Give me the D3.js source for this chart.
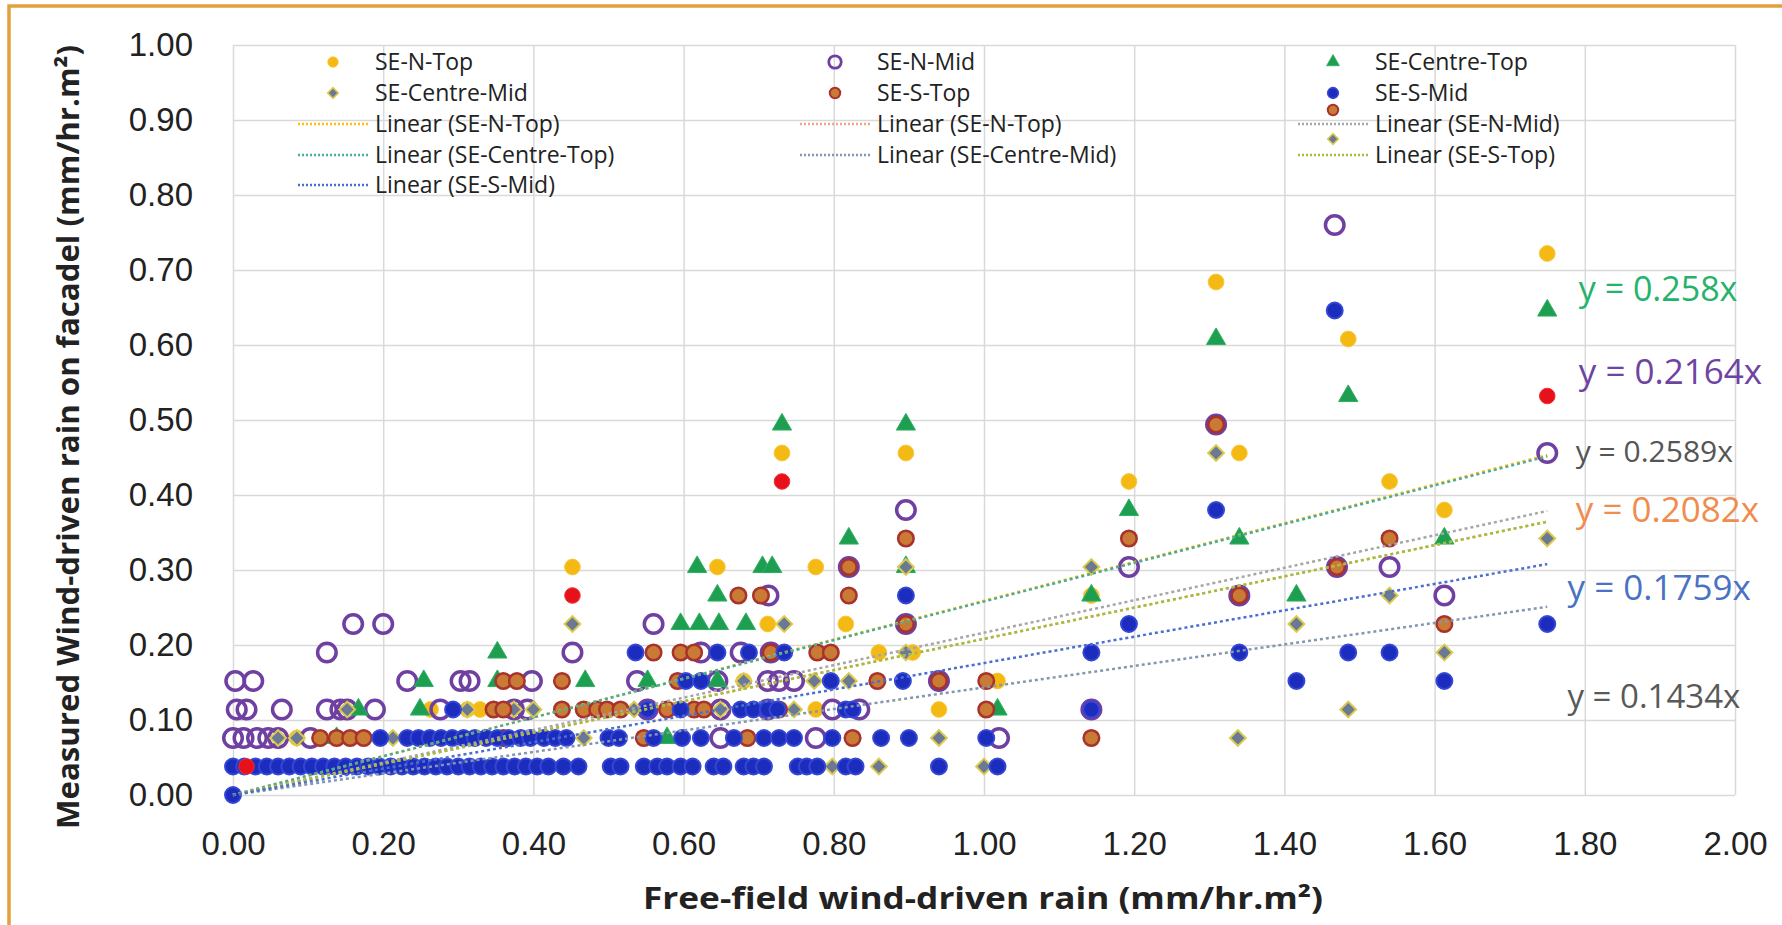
<!DOCTYPE html>
<html>
<head>
<meta charset="utf-8">
<script src="https://cdn.jsdelivr.net/npm/d3@7/dist/d3.min.js"></script>
<style>
    body { margin: 0; background: #fff; }
    svg { display: block; font-family: "Open Sans", "DejaVu Sans", sans-serif; }
</style>
</head>
<body>
<div id="chart"></div>
<script>
// gauge readings come in steps of ~0.038 mm/hr.m2
const seNTop = [
    [0.085, 0.076], [0.685, 0.076],
    [0.263, 0.114], [0.312, 0.114], [0.329, 0.114], [0.578, 0.114], [0.776, 0.114], [0.940, 0.114],
    [0.680, 0.152], [1.018, 0.152],
    [0.860, 0.190], [0.905, 0.190],
    [0.712, 0.228], [0.816, 0.228],
    [1.143, 0.266],
    [0.452, 0.304], [0.645, 0.304], [0.776, 0.304],
    [1.613, 0.380],
    [1.193, 0.418], [1.540, 0.418],
    [0.731, 0.456], [0.896, 0.456], [1.340, 0.456],
    [1.485, 0.608], [1.309, 0.684], [1.750, 0.722]
];
const seNMid = [
    [0.000, 0.076], [0.014, 0.076], [0.032, 0.076], [0.047, 0.076], [0.060, 0.076], [0.103, 0.076], [0.649, 0.076], [0.776, 0.076], [1.020, 0.076],
    [0.005, 0.114], [0.018, 0.114], [0.065, 0.114], [0.125, 0.114], [0.143, 0.114], [0.152, 0.114], [0.189, 0.114], [0.276, 0.114],
    [0.374, 0.114], [0.392, 0.114], [0.552, 0.114], [0.649, 0.114], [0.712, 0.114], [0.798, 0.114], [0.834, 0.114], [1.143, 0.114],
    [0.003, 0.152], [0.027, 0.152], [0.232, 0.152], [0.303, 0.152], [0.315, 0.152], [0.398, 0.152], [0.538, 0.152], [0.645, 0.152],
    [0.712, 0.152], [0.727, 0.152], [0.747, 0.152], [0.940, 0.152],
    [0.125, 0.190], [0.452, 0.190], [0.623, 0.190], [0.676, 0.190], [0.716, 0.190],
    [0.160, 0.228], [0.200, 0.228], [0.560, 0.228], [0.896, 0.228],
    [0.713, 0.266], [1.340, 0.266], [1.613, 0.266],
    [0.820, 0.304], [1.193, 0.304], [1.470, 0.304], [1.540, 0.304],
    [0.896, 0.380], [1.750, 0.456], [1.309, 0.494], [1.467, 0.760]
];
const seCentreTop = [
    [0.138, 0.076], [0.578, 0.076],
    [0.167, 0.114], [0.249, 0.114], [1.018, 0.114],
    [0.254, 0.152], [0.352, 0.152], [0.469, 0.152], [0.552, 0.152], [0.645, 0.152],
    [0.352, 0.190],
    [0.596, 0.228], [0.621, 0.228], [0.647, 0.228], [0.683, 0.228],
    [0.645, 0.266], [1.143, 0.266], [1.416, 0.266],
    [0.618, 0.304], [0.705, 0.304], [0.718, 0.304], [0.896, 0.304],
    [0.820, 0.342], [1.340, 0.342], [1.613, 0.342],
    [1.193, 0.380],
    [0.731, 0.494], [0.896, 0.494],
    [1.485, 0.532], [1.309, 0.608], [1.750, 0.646]
];
const seCentreMid = [
    [0.798, 0.038], [0.860, 0.038], [1.000, 0.038],
    [0.060, 0.076], [0.085, 0.076], [0.213, 0.076], [0.360, 0.076], [0.467, 0.076], [0.825, 0.076], [0.940, 0.076], [1.338, 0.076],
    [0.152, 0.114], [0.312, 0.114], [0.374, 0.114], [0.400, 0.114], [0.438, 0.114], [0.534, 0.114], [0.649, 0.114], [0.747, 0.114], [1.485, 0.114],
    [0.680, 0.152], [0.774, 0.152], [0.820, 0.152],
    [0.896, 0.190], [1.143, 0.190], [1.613, 0.190],
    [0.452, 0.228], [0.734, 0.228], [1.416, 0.228],
    [1.540, 0.266],
    [0.896, 0.304], [1.143, 0.304],
    [1.750, 0.342], [1.309, 0.456]
];
const seSTop = [
    [0.116, 0.076], [0.138, 0.076], [0.156, 0.076], [0.174, 0.076], [0.360, 0.076], [0.547, 0.076], [0.685, 0.076], [0.825, 0.076], [1.143, 0.076],
    [0.347, 0.114], [0.360, 0.114], [0.438, 0.114], [0.467, 0.114], [0.485, 0.114], [0.498, 0.114], [0.516, 0.114], [0.578, 0.114],
    [0.614, 0.114], [0.627, 0.114], [0.727, 0.114], [1.003, 0.114],
    [0.360, 0.152], [0.378, 0.152], [0.438, 0.152], [0.592, 0.152], [0.858, 0.152], [0.940, 0.152], [1.003, 0.152],
    [0.560, 0.190], [0.596, 0.190], [0.614, 0.190], [0.716, 0.190], [0.778, 0.190], [0.796, 0.190],
    [0.896, 0.228], [1.613, 0.228],
    [0.673, 0.266], [0.703, 0.266], [0.820, 0.266], [1.340, 0.266],
    [0.820, 0.304], [1.470, 0.304],
    [0.896, 0.342], [1.193, 0.342], [1.540, 0.342],
    [1.309, 0.494]
];
const seSMid = [
    [0.000, 0.000],
    [0.000, 0.038], [0.015, 0.038], [0.030, 0.038], [0.045, 0.038], [0.060, 0.038], [0.075, 0.038], [0.090, 0.038], [0.105, 0.038],
    [0.120, 0.038], [0.135, 0.038], [0.150, 0.038], [0.165, 0.038], [0.180, 0.038], [0.195, 0.038], [0.210, 0.038], [0.225, 0.038],
    [0.240, 0.038], [0.255, 0.038], [0.270, 0.038], [0.285, 0.038], [0.300, 0.038], [0.315, 0.038], [0.330, 0.038], [0.345, 0.038],
    [0.360, 0.038], [0.375, 0.038], [0.390, 0.038], [0.405, 0.038], [0.420, 0.038], [0.440, 0.038], [0.460, 0.038],
    [0.503, 0.038], [0.516, 0.038], [0.547, 0.038], [0.565, 0.038], [0.578, 0.038], [0.596, 0.038], [0.612, 0.038], [0.640, 0.038],
    [0.653, 0.038], [0.680, 0.038], [0.693, 0.038], [0.707, 0.038], [0.752, 0.038], [0.764, 0.038], [0.778, 0.038], [0.816, 0.038],
    [0.829, 0.038], [0.940, 0.038], [1.018, 0.038],
    [0.196, 0.076], [0.232, 0.076], [0.247, 0.076], [0.262, 0.076], [0.277, 0.076], [0.292, 0.076], [0.307, 0.076], [0.322, 0.076],
    [0.337, 0.076], [0.352, 0.076], [0.367, 0.076], [0.383, 0.076], [0.396, 0.076], [0.414, 0.076], [0.429, 0.076], [0.444, 0.076],
    [0.500, 0.076], [0.514, 0.076], [0.560, 0.076], [0.598, 0.076], [0.623, 0.076], [0.667, 0.076], [0.707, 0.076], [0.727, 0.076],
    [0.747, 0.076], [0.798, 0.076], [0.863, 0.076], [0.900, 0.076], [1.003, 0.076],
    [0.293, 0.114], [0.552, 0.114], [0.596, 0.114], [0.676, 0.114], [0.693, 0.114], [0.712, 0.114], [0.725, 0.114], [0.816, 0.114],
    [0.825, 0.114], [1.143, 0.114],
    [0.603, 0.152], [0.623, 0.152], [0.796, 0.152], [0.892, 0.152], [1.416, 0.152], [1.613, 0.152],
    [0.536, 0.190], [0.645, 0.190], [0.687, 0.190], [0.734, 0.190], [1.143, 0.190], [1.340, 0.190], [1.485, 0.190], [1.540, 0.190],
    [1.193, 0.228], [1.750, 0.228],
    [0.896, 0.266],
    [1.309, 0.380], [1.467, 0.646]
];
// odd red points with no legend entry
const redPts = [[0.018, 0.038], [0.452, 0.266], [0.731, 0.418], [1.750, 0.532]];

const xTicks = [0, 0.2, 0.4, 0.6, 0.8, 1.0, 1.2, 1.4, 1.6, 1.8, 2.0];
const yTicks = [0, 0.1, 0.2, 0.3, 0.4, 0.5, 0.6, 0.7, 0.8, 0.9, 1.0];

// trendlines: legend label, slope, colour
const trendLabels = ['Linear (SE-N-Top)', 'Linear (SE-N-Top)', 'Linear (SE-N-Mid)', 'Linear (SE-Centre-Top)', 'Linear (SE-Centre-Mid)', 'Linear (SE-S-Top)', 'Linear (SE-S-Mid)'];
const trendSlopes = [0.2589, 0.2082, 0.2164, 0.258, 0.1434, 0.2082, 0.1759];
const trendColors = ['#FFC000', '#F4A582', '#A6A6A6', '#4BAC9E', '#8497B0', '#A3BE3C', '#4A6FD0'];
const trendXmax = 1.75;

// equation labels as shown on the chart
const eqTexts = ['y = 0.258x', 'y = 0.2164x', 'y = 0.2589x', 'y = 0.2082x', 'y = 0.1759x', 'y = 0.1434x'];
const eqColors = ['#25B36C', '#6E44A2', '#555555', '#F08C4E', '#4A72C4', '#595959'];

const W = 1782, H = 925;
const margin = { left: 233, right: 47, top: 45, bottom: 130 };

const svg = d3.select('#chart').append('svg')
    .attr('width', W)
    .attr('height', H);

// orange frame (top + left edges only visible)
svg.append('path')
    .attr('d', `M9,${H} L9,6 L${W},6`)
    .attr('fill', 'none')
    .attr('stroke', '#E2A13C')
    .attr('stroke-width', 3.5);

const x = d3.scaleLinear().domain([0, 2]).range([margin.left, W - margin.right]);
const y = d3.scaleLinear().domain([0, 1]).range([H - margin.bottom, margin.top]);

const styleAxis = g => {
    g.select('.domain').remove();
    g.selectAll('.tick line').attr('stroke', '#D9D9D9').attr('stroke-width', 1.5);
    g.selectAll('.tick text').attr('fill', '#222').attr('font-size', 33);
};

svg.append('g')
    .attr('transform', `translate(0,${y(0)})`)
    .call(d3.axisBottom(x).tickValues(xTicks).tickFormat(d3.format('.2f'))
        .tickSize(-(y(0) - y(1))).tickPadding(37))
    .call(styleAxis);

svg.append('g')
    .attr('transform', `translate(${x(0)},0)`)
    .call(d3.axisLeft(y).tickValues(yTicks).tickFormat(d3.format('.2f'))
        .tickSize(-(x(2) - x(0))).tickPadding(40))
    .call(styleAxis);

// axis titles
svg.append('text')
    .attr('x', (x(0) + x(2)) / 2 - 1)
    .attr('y', 909)
    .attr('text-anchor', 'middle')
    .attr('font-size', 30)
    .attr('font-weight', 'bold')
    .attr('fill', '#222')
    .attr('textLength', 680)
    .attr('lengthAdjust', 'spacingAndGlyphs')
    .text('Free-field wind-driven rain  (mm/hr.m²)');

svg.append('text')
    .attr('transform', 'translate(79,437) rotate(-90)')
    .attr('text-anchor', 'middle')
    .attr('font-size', 30)
    .attr('font-weight', 'bold')
    .attr('fill', '#222')
    .attr('textLength', 784)
    .attr('lengthAdjust', 'spacingAndGlyphs')
    .text('Measured Wind-driven rain on facadel (mm/hr.m²)');

// marker styles
const series = [
    { name: 'SE-N-Top', data: seNTop, shape: d3.symbolCircle, size: 195, fill: '#F5B914', stroke: '#F7C940', sw: 1, rot: 0 },
    { name: 'SE-N-Mid', data: seNMid, shape: d3.symbolCircle, size: 270, fill: 'none', stroke: '#6F3FA2', sw: 3.5, rot: 0 },
    { name: 'SE-Centre-Top', data: seCentreTop, shape: d3.symbolTriangle, size: 160, fill: '#1E9E50', stroke: '#2DB060', sw: 1, rot: 0 },
    { name: 'SE-Centre-Mid', data: seCentreMid, shape: d3.symbolSquare, size: 125, fill: '#6C7994', stroke: '#D9CB4E', sw: 2, rot: 45 },
    { name: 'SE-S-Top', data: seSTop, shape: d3.symbolCircle, size: 190, fill: '#C97A35', stroke: '#A8322C', sw: 2.5, rot: 0 },
    { name: 'SE-S-Mid', data: seSMid, shape: d3.symbolCircle, size: 200, fill: '#1C2CBC', stroke: '#3446D6', sw: 2, rot: 0 }
];
const redStyle = { shape: d3.symbolCircle, size: 190, fill: '#E8101A', stroke: '#F03030', sw: 1, rot: 0 };

function drawMarkers(g, data, s) {
    g.selectAll(null)
        .data(data)
        .enter().append('path')
        .attr('d', d3.symbol().type(s.shape).size(s.size))
        .attr('transform', d => `translate(${x(d[0])},${y(d[1])}) rotate(${s.rot})`)
        .attr('fill', s.fill)
        .attr('stroke', s.stroke)
        .attr('stroke-width', s.sw);
}

const plot = svg.append('g');
series.forEach(s => drawMarkers(plot, s.data, s));
drawMarkers(plot, redPts, redStyle);

// trendlines through the origin
const line = d3.line().x(d => x(d[0])).y(d => y(d[1]));
trendSlopes.forEach((m, i) => {
    plot.append('path')
        .datum([[0, 0], [trendXmax, m * trendXmax]])
        .attr('d', line)
        .attr('fill', 'none')
        .attr('stroke', trendColors[i])
        .attr('stroke-width', 2.5)
        .attr('stroke-dasharray', '3,3');
});

// equation labels placed beside the line ends
const eqPos = [[1.792, 0.674], [1.792, 0.565], [1.788, 0.458], [1.788, 0.380], [1.777, 0.276], [1.777, 0.132]];
const eqSize = [34, 35, 30, 35, 35, 33];
eqTexts.forEach((t, i) => {
    svg.append('text')
        .attr('x', x(eqPos[i][0]))
        .attr('y', y(eqPos[i][1]))
        .attr('dy', '0.35em')
        .attr('font-size', eqSize[i])
        .attr('fill', eqColors[i])
        .text(t);
});

// legend, 3 columns filled row by row
const legend = svg.append('g').attr('font-size', 23).attr('fill', '#222');
const colX = [333, 835, 1333];
const rowY = [62, 93, 124, 155, 185];
const legendItems = series.map(s => ({ label: s.name, marker: s }))
    .concat(trendLabels.map((l, i) => ({ label: l, color: trendColors[i] })));

legendItems.forEach((it, i) => {
    const cx = colX[i % 3], cy = rowY[Math.floor(i / 3)];
    if (it.marker) {
        const s = it.marker;
        legend.append('path')
            .attr('d', d3.symbol().type(s.shape).size(s.size * 0.45))
            .attr('transform', `translate(${cx},${cy}) rotate(${s.rot})`)
            .attr('fill', s.fill)
            .attr('stroke', s.stroke)
            .attr('stroke-width', s.sw * 0.8);
    } else {
        legend.append('line')
            .attr('x1', cx - 35).attr('x2', cx + 35)
            .attr('y1', cy).attr('y2', cy)
            .attr('stroke', it.color)
            .attr('stroke-width', 2.5)
            .attr('stroke-dasharray', '2,2');
    }
    legend.append('text')
        .attr('x', cx + 42)
        .attr('y', cy)
        .attr('dy', '0.35em')
        .text(it.label);
});

// stray markers that sit between the third-column legend rows
const strayMarks = [[series[4], 110], [series[3], 139]];
strayMarks.forEach(([s, cy]) => {
    legend.append('path')
        .attr('d', d3.symbol().type(s.shape).size(s.size * 0.45))
        .attr('transform', `translate(${colX[2]},${cy}) rotate(${s.rot})`)
        .attr('fill', s.fill)
        .attr('stroke', s.stroke)
        .attr('stroke-width', s.sw * 0.8);
});
</script>
</body>
</html>
